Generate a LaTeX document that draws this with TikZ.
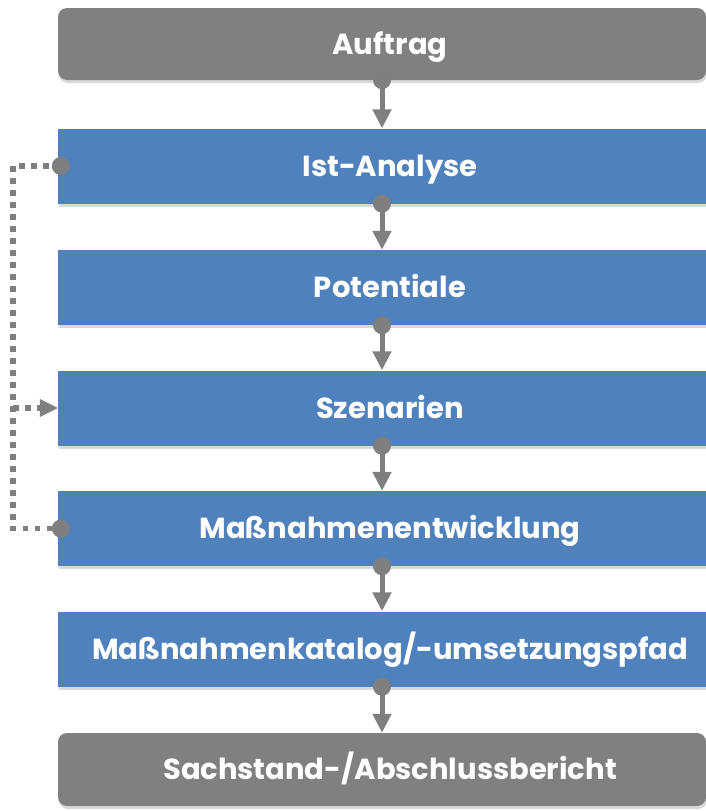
\documentclass[tikz,border=0pt]{standalone}
\usepackage{fontspec}
\setmainfont{Poppins}
\usetikzlibrary{arrows.meta,shadows}
\definecolor{boxgray}{HTML}{808080}
\definecolor{boxblue}{HTML}{4F81BD}
\definecolor{conngray}{HTML}{7F7F7F}
\tikzset{
  base/.style={minimum width=648pt, minimum height=75pt, inner sep=0pt,
    font=\fontsize{29}{33}\selectfont\bfseries, text=white,
    text height=20pt, text depth=0pt,
    execute at begin node=\hspace*{16pt},
    drop shadow={opacity=0.3, shadow xshift=1pt, shadow yshift=-3pt}},
  graybox/.style={base, fill=boxgray, rounded corners=9pt},
  bluebox/.style={base, fill=boxblue},
  conn/.style={draw=conngray, line width=5pt, -{Triangle[width=18pt,length=19pt]}},
  dot/.style={fill=conngray},
  dotline/.style={draw=conngray, line width=5.5pt, dash pattern=on 5.5pt off 6.5pt},
}
\begin{document}
\begin{tikzpicture}[x=1pt,y=-1pt]
\useasboundingbox (0,0) rectangle (706,811);
\node[graybox, minimum height=72pt] (auf) at (382,44) {Auftrag};
\node[bluebox] (ist) at (382,166) {Ist-Analyse};
\node[bluebox] (pot) at (382,287.5) {Potentiale};
\node[bluebox] (sze) at (382,408) {Szenarien};
\node[bluebox] (mas) at (382,528.5) {Maßnahmenentwicklung};
\node[bluebox] (kat) at (382,649) {Maßnahmenkatalog/-umsetzungspfad};
\node[graybox, minimum height=73pt] (sac) at (382,769.5) {Sachstand-/Abschlussbericht};
% vertical connectors
\foreach \a/\b in {auf/ist, ist/pot, pot/sze, sze/mas, mas/kat, kat/sac}{
  \draw[conn] (\a.south) -- (\b.north);
  \fill[dot] (\a.south) circle (9pt);
}
% feedback dotted loop
\coordinate (lt) at (13,166);
\coordinate (lb) at (13,528.5);
\coordinate (lm) at (13,408);
\draw[dotline] ([xshift=3pt]ist.west) -- (lt) -- (lb) -- ([xshift=3pt]mas.west);
\draw[dotline] (lm) -- ([xshift=-16pt]sze.west);
\fill[conngray] (sze.west) -- ++(-18,-9) -- ++(0,18) -- cycle;
\fill[dot] ([xshift=3pt]ist.west) circle (9pt);
\fill[dot] ([xshift=3pt]mas.west) circle (9pt);
\end{tikzpicture}
\end{document}
